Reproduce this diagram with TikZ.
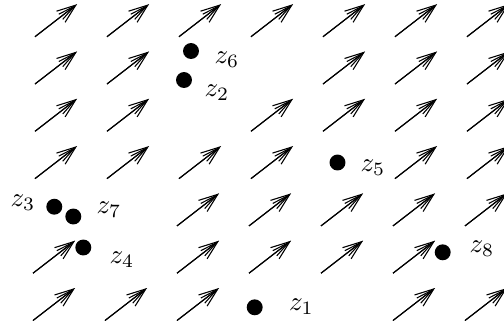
\documentclass[tikz,border=0pt]{standalone}
\usetikzlibrary{arrows.meta}
\newcommand\arrowrow[3]{%
  \foreach \j in {#3}{%
    \draw[vec] ({#2+72*\j},#1) -- ++(42,-32.5);
    \draw[vecin] ({#2+72*\j},#1) -- ++(42,-32.5);
  }}
\begin{document}
\begin{tikzpicture}[x=0.37pt,y=-0.37pt,
  vec/.style={line width=0.4pt,-{Straight Barb[length=7pt,width=5.2pt]}},
  vecin/.style={line width=0.4pt,-{Straight Barb[length=6.5pt,width=2.4pt]}},
  pt/.style={circle,fill=black,inner sep=0pt,minimum size=5.9pt},
  lab/.style={anchor=west,inner sep=0pt}]
\useasboundingbox (0,0) rectangle (504,327);
\arrowrow{36.7}{35}{0,1,2,3,4,5,6}
\arrowrow{84}{35}{0,1,4,5,6}
\arrowrow{131.3}{35}{0,1,3,4,5,6}
\arrowrow{178.6}{35}{0,1,2,3,5,6}
\arrowrow{225.9}{33}{2,3,4,5,6}
\arrowrow{273.2}{33}{0,2,3,4,5}
\arrowrow{320.5}{33}{0,1,2,5,6}
\node[pt] (p6) at (191,51) {};
\node[pt] (p2) at (184,80) {};
\node[pt] (p5) at (337.5,162.5) {};
\node[pt] (p3) at (54.3,206.7) {};
\node[pt] (p7) at (73.3,216.5) {};
\node[pt] (p4) at (83.3,247.5) {};
\node[pt] (p1) at (254.7,307.3) {};
\node[pt] (p8) at (442.7,252.3) {};
\node[lab] (l6) at (214,59.6) {$z_6$};
\node[lab] (l2) at (204,92.6) {$z_2$};
\node[lab] (l5) at (360,167.6) {$z_5$};
\node[lab] (l3) at (10,203) {$z_3$};
\node[lab] (l7) at (96,209.6) {$z_7$};
\node[lab] (l4) at (109,260) {$z_4$};
\node[lab] (l1) at (288.5,306.6) {$z_1$};
\node[lab] (l8) at (469,248.6) {$z_8$};
\end{tikzpicture}
\end{document}
